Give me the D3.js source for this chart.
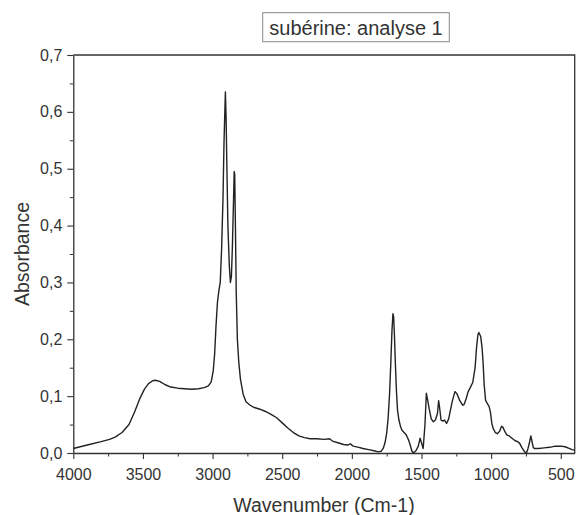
<!DOCTYPE html>
<html>
<head>
<meta charset="utf-8">
<script src="https://cdn.jsdelivr.net/npm/d3@7"></script>
<style>
  body { margin: 0; background: #fff; }
  svg { display: block; font-family: "Liberation Sans", Arial, sans-serif; }
</style>
</head>
<body>
<svg class="canvas" width="576" height="515"></svg>
<script>
// FTIR spectrum (cm-1, absorbance)
const wavenumbers = [
  4000, 3900, 3800, 3740, 3700, 3650, 3600, 3560, 3520, 3490, 3460, 3430, 3410, 3380, 3340, 3300,
  3250, 3200, 3150, 3100, 3060, 3030, 3010, 2995, 2985, 2975, 2965, 2955, 2945, 2935, 2925, 2918,
  2912, 2908, 2903, 2897, 2890, 2880, 2872, 2865, 2858, 2850, 2845, 2841, 2836, 2830, 2822, 2812,
  2800, 2780, 2760, 2730, 2700, 2660, 2620, 2580, 2540, 2500, 2460, 2420, 2380, 2340, 2300, 2250,
  2200, 2160, 2140, 2100, 2060, 2030, 2010, 1990, 1950, 1920, 1880, 1840, 1810, 1790, 1775, 1762,
  1750, 1740, 1730, 1720, 1712, 1705, 1700, 1694, 1688, 1680, 1672, 1662, 1650, 1640, 1625, 1610,
  1595, 1582, 1570, 1558, 1540, 1523, 1510, 1500, 1488, 1475, 1465, 1455, 1445, 1430, 1415, 1400,
  1385, 1377, 1370, 1360, 1347, 1335, 1320, 1305, 1295, 1280, 1260, 1245, 1225, 1205, 1195, 1180,
  1165, 1150, 1132, 1115, 1105, 1095, 1088, 1075, 1065, 1058, 1050, 1040, 1030, 1015, 1005, 995,
  985, 970, 955, 940, 925, 915, 900, 888, 870, 850, 830, 810, 795, 780, 765, 755,
  745, 735, 725, 715, 708, 698, 690, 660, 620, 580, 540, 500, 470, 440, 420, 400
];
const absorbance = [
  0.008, 0.014, 0.020, 0.024, 0.028, 0.036, 0.050, 0.072, 0.097, 0.112, 0.122, 0.127, 0.128, 0.126, 0.120, 0.116,
  0.114, 0.113, 0.112, 0.113, 0.115, 0.118, 0.125, 0.145, 0.175, 0.225, 0.265, 0.285, 0.300, 0.360, 0.450, 0.545,
  0.600, 0.635, 0.590, 0.500, 0.400, 0.330, 0.300, 0.310, 0.360, 0.440, 0.495, 0.490, 0.400, 0.280, 0.200, 0.160,
  0.130, 0.103, 0.090, 0.084, 0.080, 0.077, 0.073, 0.068, 0.062, 0.053, 0.044, 0.036, 0.030, 0.027, 0.025, 0.025,
  0.024, 0.025, 0.021, 0.018, 0.015, 0.014, 0.016, 0.012, 0.010, 0.008, 0.006, 0.004, 0.002, 0.003, 0.008, 0.018,
  0.035, 0.060, 0.100, 0.160, 0.215, 0.245, 0.240, 0.205, 0.160, 0.110, 0.075, 0.058, 0.046, 0.040, 0.036, 0.032,
  0.024, 0.015, 0.004, 0.000, 0.004, 0.012, 0.026, 0.018, 0.008, 0.050, 0.105, 0.092, 0.078, 0.060, 0.055, 0.058,
  0.070, 0.092, 0.080, 0.058, 0.056, 0.058, 0.052, 0.060, 0.072, 0.090, 0.108, 0.104, 0.092, 0.084, 0.085, 0.095,
  0.108, 0.115, 0.124, 0.150, 0.185, 0.208, 0.212, 0.205, 0.185, 0.160, 0.120, 0.093, 0.088, 0.082, 0.072, 0.052,
  0.043, 0.036, 0.034, 0.038, 0.047, 0.045, 0.037, 0.032, 0.030, 0.026, 0.022, 0.020, 0.017, 0.010, 0.004, 0.001,
  0.001, 0.008, 0.018, 0.030, 0.022, 0.010, 0.008, 0.008, 0.009, 0.010, 0.012, 0.012, 0.011, 0.008, 0.006, 0.005
];
const xTicks = [4000, 3500, 3000, 2500, 2000, 1500, 1000, 500];
const yTicks = [0, 0.1, 0.2, 0.3, 0.4, 0.5, 0.6, 0.7];

const title = "subérine: analyse 1";
const xTitle = "Wavenumber (Cm-1)";
const yTitle = "Absorbance";

const spectrum = wavenumbers.map((w, i) => ({ w: w, a: absorbance[i] }));

const svg = d3.select(".canvas");
const plotLeft = 73.3, plotRight = 574.7, plotTop = 55, plotBottom = 453;

const x = d3.scaleLinear().domain([4000, 400]).range([plotLeft, plotRight]);
const y = d3.scaleLinear().domain([0, 0.7]).range([plotBottom, plotTop]);

const fr = d3.formatLocale({ decimal: ",", thousands: "", grouping: [3], currency: ["", ""] });
const fmtY = fr.format(".1f");
const fmtX = fr.format("d");

const ink = "#333";

// minor ticks first, majors drawn over them
svg.append("g")
  .attr("transform", `translate(0,${plotBottom})`)
  .call(d3.axisBottom(x).tickValues(d3.range(3750, 400, -500)).tickSize(3.5).tickFormat(""))
  .call(g => g.select(".domain").remove())
  .selectAll("line").attr("stroke", ink);

svg.append("g")
  .attr("transform", `translate(${plotLeft},0)`)
  .call(d3.axisLeft(y).tickValues(d3.range(0.05, 0.7, 0.1)).tickSize(3.5).tickFormat(""))
  .call(g => g.select(".domain").remove())
  .selectAll("line").attr("stroke", ink);

const xAxis = svg.append("g")
  .attr("transform", `translate(0,${plotBottom})`)
  .call(d3.axisBottom(x).tickValues(xTicks).tickSize(6).tickPadding(10).tickSizeOuter(0).tickFormat(fmtX));

const yAxis = svg.append("g")
  .attr("transform", `translate(${plotLeft},0)`)
  .call(d3.axisLeft(y).tickValues(yTicks).tickSize(6).tickPadding(5).tickSizeOuter(0).tickFormat(fmtY));

[xAxis, yAxis].forEach(g => {
  g.select(".domain").attr("stroke", ink).attr("stroke-width", 1.3);
  g.selectAll(".tick line").attr("stroke", ink).attr("stroke-width", 1.1);
  g.selectAll(".tick text")
    .attr("fill", ink)
    .style("font-size", "16px")
    .style("font-family", "'Liberation Sans', Arial, sans-serif");
});

// top and right frame
svg.append("path")
  .attr("d", `M${plotLeft},${plotTop}H${plotRight}V${plotBottom}`)
  .attr("fill", "none")
  .attr("stroke", ink)
  .attr("stroke-width", 1.3);

const line = d3.line()
  .x(d => x(d.w))
  .y(d => y(d.a));

svg.append("path")
  .datum(spectrum)
  .attr("d", line)
  .attr("fill", "none")
  .attr("stroke", "#222")
  .attr("stroke-width", 1.4)
  .attr("stroke-linejoin", "round");

// axis titles
svg.append("text")
  .attr("x", (plotLeft + plotRight) / 2)
  .attr("y", 505)
  .attr("dy", "0.35em")
  .attr("text-anchor", "middle")
  .attr("fill", ink)
  .style("font-size", "19.5px")
  .text(xTitle);

svg.append("text")
  .attr("transform", `translate(22,${(plotTop + plotBottom) / 2}) rotate(-90)`)
  .attr("dy", "0.35em")
  .attr("text-anchor", "middle")
  .attr("fill", ink)
  .style("font-size", "19.5px")
  .text(yTitle);

// boxed title
svg.append("rect")
  .attr("x", 262.7)
  .attr("y", 12.7)
  .attr("width", 186.6)
  .attr("height", 29)
  .attr("fill", "#fff")
  .attr("stroke", "#888")
  .attr("stroke-width", 1);

svg.append("text")
  .attr("x", 356)
  .attr("y", 27.5)
  .attr("dy", "0.35em")
  .attr("text-anchor", "middle")
  .attr("fill", ink)
  .style("font-size", "20px")
  .text(title);
</script>
</body>
</html>
